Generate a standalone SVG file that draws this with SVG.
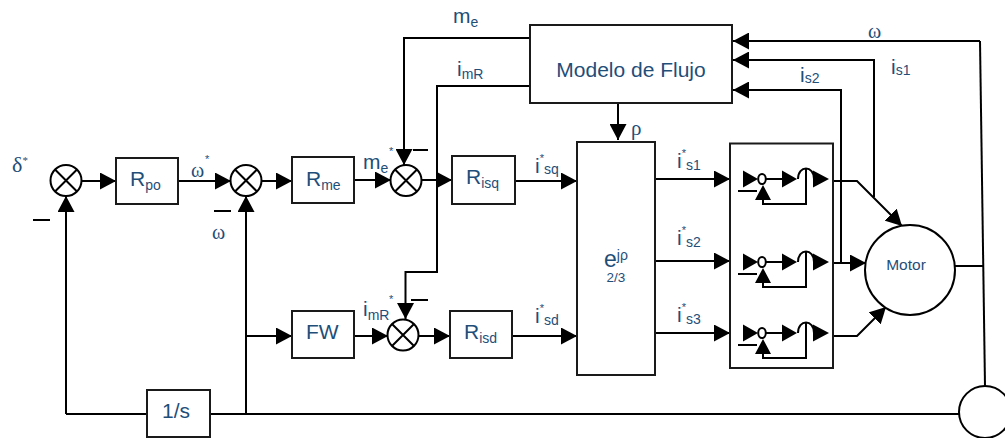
<svg xmlns="http://www.w3.org/2000/svg" width="1005" height="438" viewBox="0 0 1005 438">
<style>
text{font-family:"Liberation Sans",Arial,sans-serif;fill:#1f4e79;font-size:21px}
.b{fill:#fff;stroke:#1a1a1a;stroke-width:2}
.c{fill:#fff;stroke:#000;stroke-width:2}
.x{stroke:#000;stroke-width:2;fill:none}
.l{stroke:#000;stroke-width:2;fill:none}
.la{stroke:#000;stroke-width:2;fill:none;marker-end:url(#a)}
.t{fill:#000;stroke:none}
.s{font-size:14px}
.sup{font-size:11px}
.g{font-family:"Liberation Serif","DejaVu Serif",serif;font-size:20px}
</style>
<defs>
<marker id="a" markerUnits="userSpaceOnUse" markerWidth="16" markerHeight="17" refX="16" refY="8.500" orient="auto"><path d="M0 0L16 8.500L0 17z"/></marker>
<g id="sum"><circle class="c" r="15.5"/><path class="x" d="M-11-11L11 11M-11 11L11-11"/></g>
<g id="sw">
<path class="l" d="M766 0H790M806-10V25H763V12M798 0C798-14 814-14 814 0"/>
<path class="t" d="M743-8.500L758 0L743 8.500zM782-8.500L797 0L782 8.500zM813-8.500L829 0L813 8.500zM763 6L771 21L755 21z"/>
<ellipse cx="762" cy="0" rx="3.800" ry="5" fill="#fff" stroke="#000" stroke-width="2"/>
<path class="l" d="M738 12H757"/>
</g>
</defs>
<g id="connectors">
<path class="la" d="M82 181H116"/>
<path class="la" d="M178 181H231"/>
<path class="la" d="M262 181H292"/>
<path class="la" d="M354 180H391"/>
<path class="la" d="M422 180H452"/>
<path class="la" d="M515 181H577"/>
<path class="la" d="M66 414V196"/>
<path class="l" d="M66 414H147"/>
<path class="la" d="M246 414V196"/>
<path class="la" d="M246 336H292"/>
<path class="la" d="M354 336H388"/>
<path class="la" d="M419 336H450"/>
<path class="la" d="M512 336H577"/>
<path class="l" d="M210 414H959"/>
<path class="la" d="M530 38H404V165"/>
<path class="la" d="M530 86H437V272H405.500V319"/>
<path class="la" d="M618 103V140"/>
<path class="la" d="M655 179H730"/>
<path class="la" d="M655 261H730"/>
<path class="la" d="M655 333H730"/>
<path class="la" d="M980 41H733"/>
<path class="la" d="M874 197V60H733"/>
<path class="la" d="M841 263V90H733"/>
<path class="l" d="M980 41L985 386"/>
<path class="la" d="M833 181H857L902 226"/>
<path class="la" d="M833 263H866"/>
<path class="la" d="M833 336H857L886 307"/>
<path class="l" d="M955 266H984"/>
<path class="l" d="M33 220H50M214 211H231M413 150H428M411 300H428"/>
</g>
<g id="sum1"><use href="#sum" x="66" y="180.500"/></g>
<g id="sum2"><use href="#sum" x="246" y="180.500"/></g>
<g id="sum3"><use href="#sum" x="406" y="180.500"/></g>
<g id="sum4"><use href="#sum" x="403" y="335"/></g>
<g id="rpo"><rect class="b" x="116" y="158" width="62" height="46"/><text x="130" y="186">R<tspan class="s" dy="4">po</tspan></text></g>
<g id="rme"><rect class="b" x="292" y="157" width="62" height="46"/><text x="306" y="186">R<tspan class="s" dy="4">me</tspan></text></g>
<g id="risq"><rect class="b" x="452" y="156" width="63" height="48"/><text x="466" y="184">R<tspan class="s" dy="4">isq</tspan></text></g>
<g id="fw"><rect class="b" x="292" y="311" width="62" height="47"/><text x="306" y="339">FW</text></g>
<g id="risd"><rect class="b" x="450" y="311" width="62" height="47"/><text x="464" y="339">R<tspan class="s" dy="4">isd</tspan></text></g>
<g id="one-over-s"><rect class="b" x="147" y="390" width="63" height="47"/><text x="176" y="418" text-anchor="middle">1/s</text></g>
<g id="modelo"><rect class="b" x="530" y="25" width="202" height="78"/><text x="631" y="77" text-anchor="middle">Modelo de Flujo</text></g>
<g id="transform"><rect class="b" x="577" y="142" width="78" height="233"/><text x="604" y="267" style="font-size:23px">e<tspan class="s" dy="-7">jρ</tspan></text><text x="616" y="282" text-anchor="middle" style="font-size:13.500px">2/3</text></g>
<g id="switches"><rect class="b" x="730" y="143.500" width="103" height="224.500"/>
<use href="#sw" y="179"/><use href="#sw" y="262"/><use href="#sw" y="333"/></g>
<g id="motor"><circle class="c" cx="910" cy="270" r="45"/><text x="906" y="270" text-anchor="middle" style="font-size:15.500px">Motor</text></g>
<g id="sensor"><circle class="c" cx="985" cy="412" r="26"/></g>
<g id="labels">
<text class="g" x="12" y="172" style="font-size:22px">δ<tspan class="sup" dy="-8">*</tspan></text>
<text class="g" x="191" y="177">ω</text><text class="sup" x="205" y="163">*</text>
<text class="g" x="212" y="239">ω</text>
<text x="363" y="169">m<tspan class="s" dy="4">e</tspan></text><text class="sup" x="389" y="155">*</text>
<text x="453" y="23">m<tspan class="s" dy="4">e</tspan></text>
<text x="457" y="76">i<tspan class="s" dy="3">mR</tspan></text>
<text x="631" y="135" class="g" style="font-size:21px">ρ</text>
<text x="535" y="173">i<tspan class="sup" dy="-11">*</tspan><tspan class="s" dy="12">sq</tspan></text>
<text x="535" y="323">i<tspan class="sup" dy="-11">*</tspan><tspan class="s" dy="13">sd</tspan></text>
<text x="363" y="316">i<tspan class="s" dy="4">mR</tspan></text><text class="sup" x="389" y="303">*</text>
<text x="677" y="168">i<tspan class="sup" dy="-11">*</tspan><tspan class="s" dy="13">s1</tspan></text>
<text x="677" y="245">i<tspan class="sup" dy="-11">*</tspan><tspan class="s" dy="13">s2</tspan></text>
<text x="677" y="322">i<tspan class="sup" dy="-11">*</tspan><tspan class="s" dy="13">s3</tspan></text>
<text class="g" x="868" y="38">ω</text>
<text x="891" y="74">i<tspan class="s" dy="1">s1</tspan></text>
<text x="800" y="82">i<tspan class="s" dy="1">s2</tspan></text>
</g>
</svg>
